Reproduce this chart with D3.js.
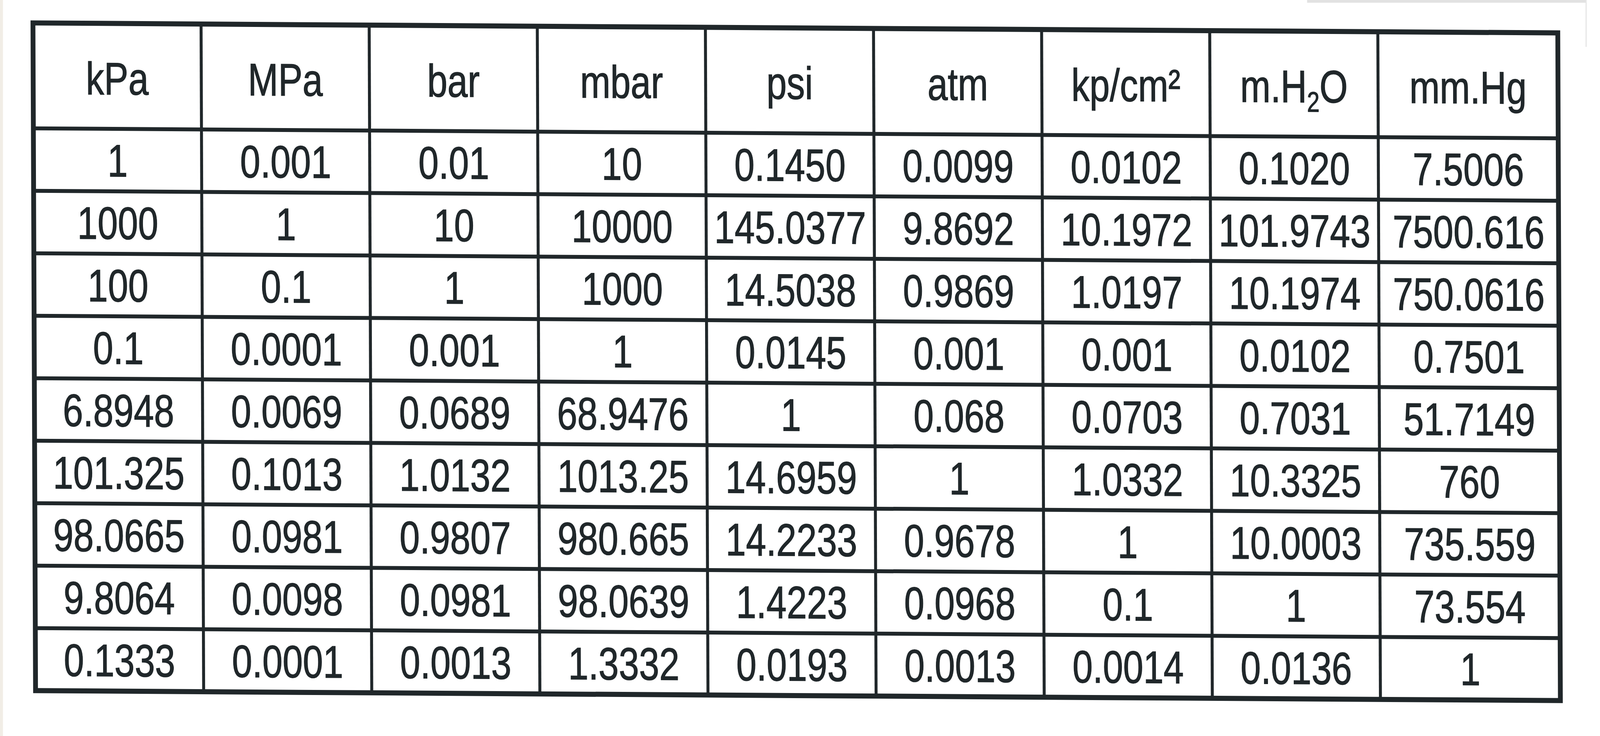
<!DOCTYPE html>
<html>
<head>
<meta charset="utf-8">
<script src="https://cdn.jsdelivr.net/npm/d3@7"></script>
<style>
  html, body { margin: 0; padding: 0; background: #ffffff; overflow: hidden; width: 100%; height: 100%; }
  #chart { width: 100vw; height: 100vh; }
  svg { display: block; width: 100%; height: 100%; }
</style>
</head>
<body>
<div id="chart"></div>
<script>
// ---- Data: pressure unit conversion table ----
const units = ["kPa", "MPa", "bar", "mbar", "psi", "atm", "kp/cm²", "m.H2O", "mm.Hg"];
const kPa   = ["1", "1000", "100", "0.1", "6.8948", "101.325", "98.0665", "9.8064", "0.1333"];
const MPa   = ["0.001", "1", "0.1", "0.0001", "0.0069", "0.1013", "0.0981", "0.0098", "0.0001"];
const bar   = ["0.01", "10", "1", "0.001", "0.0689", "1.0132", "0.9807", "0.0981", "0.0013"];
const mbar  = ["10", "10000", "1000", "1", "68.9476", "1013.25", "980.665", "98.0639", "1.3332"];
const psi   = ["0.1450", "145.0377", "14.5038", "0.0145", "1", "14.6959", "14.2233", "1.4223", "0.0193"];
const atm   = ["0.0099", "9.8692", "0.9869", "0.001", "0.068", "1", "0.9678", "0.0968", "0.0013"];
const kpcm2 = ["0.0102", "10.1972", "1.0197", "0.001", "0.0703", "1.0332", "1", "0.1", "0.0014"];
const mH2O  = ["0.1020", "101.9743", "10.1974", "0.0102", "0.7031", "10.3325", "10.0003", "1", "0.0136"];
const mmHg  = ["7.5006", "7500.616", "750.0616", "0.7501", "51.7149", "760", "735.559", "73.554", "1"];

const columns = [kPa, MPa, bar, mbar, psi, atm, kpcm2, mH2O, mmHg];
const nRows = kPa.length;

// ---- Layout ----
const W = 4321, H = 1885;
const tableW = 4118, tableH = 1710;
const ink = "#20272a";
const fontSize = 117;
const squeeze = 0.84;

const svg = d3.select("#chart").append("svg")
  .attr("viewBox", `0 0 ${W} ${H}`)
  .attr("preserveAspectRatio", "none");

svg.append("rect").attr("width", W).attr("height", H).attr("fill", "#ffffff");
// faint scan edges
svg.append("rect").attr("x", 0).attr("y", 0).attr("width", 8).attr("height", H).attr("fill", "#f1ede6");
svg.append("rect").attr("x", 3530).attr("y", 0).attr("width", 752).attr("height", 7).attr("fill", "#e2e2e2");
svg.append("rect").attr("x", 4282).attr("y", 0).attr("width", 3).attr("height", 120).attr("fill", "#e6e6e6");

// x: column index -> position (last column slightly wider)
const x = d3.scaleLinear().domain([0, 8, 9]).range([0, 3632, tableW]);
// y: row index (0 = top, 1 = header bottom, 10 = table bottom)
const y = d3.scaleLinear().domain([0, 1, nRows + 1]).range([0, 270, tableH]);

// slight skew of the scanned sheet
const g = svg.append("g")
  .attr("transform", "translate(89,58.75) matrix(1,0.0062,0.0041,1,0,0)");

// inner horizontal lines
const hIdx = d3.range(1, nRows + 1);
g.selectAll("line.h").data(hIdx).join("line")
  .attr("class", "h")
  .attr("x1", x(0)).attr("x2", x(9))
  .attr("y1", d => y(d)).attr("y2", d => y(d))
  .attr("stroke", ink).attr("stroke-width", 10);

// inner vertical lines
const vIdx = d3.range(1, units.length);
g.selectAll("line.v").data(vIdx).join("line")
  .attr("class", "v")
  .attr("x1", d => x(d)).attr("x2", d => x(d))
  .attr("y1", y(0)).attr("y2", y(nRows + 1))
  .attr("stroke", ink).attr("stroke-width", 8);

// outer border
g.append("rect")
  .attr("x", x(0)).attr("y", y(0))
  .attr("width", x(9) - x(0)).attr("height", y(nRows + 1) - y(0))
  .attr("fill", "none").attr("stroke", ink).attr("stroke-width", 13);

const textStyle = sel => sel
  .attr("text-anchor", "middle")
  .attr("font-family", "'Liberation Sans', Arial, Helvetica, sans-serif")
  .attr("font-size", fontSize)
  .attr("fill", ink)
  .attr("stroke", ink)
  .attr("stroke-width", 1.5);

// header
const header = g.selectAll("text.head").data(units).join("text")
  .attr("class", "head")
  .attr("transform", (d, i) => `translate(${(x(i) + x(i + 1)) / 2},${(y(0) + y(1)) / 2 + 47}) scale(${squeeze},1)`)
  .call(textStyle);

header.each(function(d) {
  const t = d3.select(this);
  if (d === "m.H2O") {
    t.append("tspan").text("m.H");
    t.append("tspan").text("2").attr("font-size", fontSize * 0.62).attr("dy", 24);
    t.append("tspan").text("O").attr("dy", -24);
  } else {
    t.text(d);
  }
});

// body cells
const cells = [];
columns.forEach((col, ci) => col.forEach((v, ri) => cells.push({ v, ci, ri })));

g.selectAll("text.cell").data(cells).join("text")
  .attr("class", "cell")
  .attr("transform", d => `translate(${(x(d.ci) + x(d.ci + 1)) / 2},${(y(d.ri + 1) + y(d.ri + 2)) / 2 + 42}) scale(${squeeze},1)`)
  .call(textStyle)
  .text(d => d.v);
</script>
</body>
</html>
